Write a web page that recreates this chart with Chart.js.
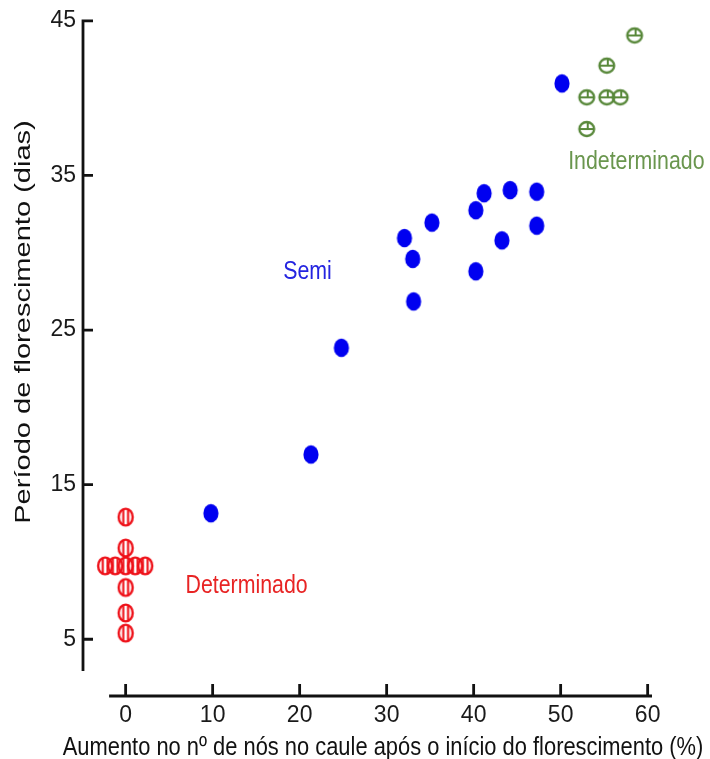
<!DOCTYPE html>
<html>
<head>
<meta charset="utf-8">
<script src="https://cdn.jsdelivr.net/npm/chart.js@4"></script>
<style>
  html, body { margin: 0; padding: 0; background: #fff; }
  #wrap { width: 710px; height: 759px; }
</style>
</head>
<body>
<div id="wrap"><canvas id="chart"></canvas></div>
<script>
// values
const determinadoX = [0, 0, -2.35, -1.2, 0, 1.1, 2.25, 0, 0, 0];
const determinadoY = [12.9, 10.9, 9.75, 9.75, 9.75, 9.75, 9.75, 8.35, 6.7, 5.4];

const semiX = [9.8, 21.3, 24.8, 33.1, 33.0, 32.05, 35.2, 40.25, 41.2, 44.2, 47.25, 47.25, 43.25, 40.25, 50.15];
const semiY = [13.15, 16.95, 23.85, 26.85, 29.6, 30.95, 31.95, 32.75, 33.85, 34.05, 33.95, 31.75, 30.8, 28.8, 40.95];

const indetX = [58.5, 55.3, 53.0, 55.3, 56.85, 53.0];
const indetY = [44.05, 42.1, 40.05, 40.05, 40.05, 38.0];

const xTicks = [0, 10, 20, 30, 40, 50, 60];
const yTicks = [5, 15, 25, 35, 45];

const xTitle = 'Aumento no nº de nós no caule após o início do florescimento (%)';
const yTitle = 'Período de florescimento (dias)';

const RED = '#ee1018';
const BLUE = '#0000f0';
const GREEN = '#58883a';
const SANS = '"Liberation Sans", Arial, sans-serif';
const NARROW = '"Liberation Sans Narrow", "Arial Narrow", "Liberation Sans", Arial, sans-serif';

function toPoints(xs, ys) {
  return xs.map((x, i) => ({ x: x, y: ys[i] }));
}

// marker images
function makeMarker(w, h, draw) {
  const c = document.createElement('canvas');
  c.width = w; c.height = h;
  draw(c.getContext('2d'), w / 2, h / 2);
  return c;
}

const blueDot = makeMarker(18, 22, (g, cx, cy) => {
  g.fillStyle = BLUE;
  g.beginPath();
  g.ellipse(cx, cy, 7.6, 9.2, 0, 0, Math.PI * 2);
  g.fill();
});

const redRing = makeMarker(20, 22, (g, cx, cy) => {
  g.strokeStyle = RED;
  g.lineWidth = 2.4;
  g.beginPath();
  g.ellipse(cx, cy, 7.0, 8.4, 0, 0, Math.PI * 2);
  g.stroke();
  g.lineWidth = 2.1;
  g.beginPath();
  g.moveTo(cx - 2.4, cy - 7.6); g.lineTo(cx - 2.4, cy + 7.6);
  g.moveTo(cx + 2.4, cy - 7.6); g.lineTo(cx + 2.4, cy + 7.6);
  g.stroke();
});

const greenRing = makeMarker(20, 20, (g, cx, cy) => {
  g.strokeStyle = GREEN;
  g.lineWidth = 2.3;
  g.beginPath();
  g.ellipse(cx, cy, 7.4, 7.0, 0, 0, Math.PI * 2);
  g.stroke();
  g.lineWidth = 2;
  g.beginPath();
  g.moveTo(cx - 7.4, cy); g.lineTo(cx + 7.4, cy);
  g.moveTo(cx + 1, cy - 7); g.lineTo(cx + 1, cy - 1);
  g.stroke();
});

function stretchText(ctx, text, x, y, size, color, sx, rot) {
  ctx.save();
  ctx.translate(x, y);
  if (rot) ctx.rotate(rot);
  ctx.scale(sx, 1);
  ctx.font = size + 'px ' + SANS;
  ctx.fillStyle = color;
  ctx.textAlign = 'center';
  ctx.textBaseline = 'alphabetic';
  ctx.fillText(text, 0, 0);
  ctx.restore();
}

// offset axes with inward ticks, titles and group labels
const axesPlugin = {
  id: 'axesPlugin',
  afterDraw(chart) {
    const { ctx, scales: { x, y } } = chart;
    const ax = x.left;
    const ay = y.bottom;
    ctx.save();
    ctx.strokeStyle = '#111';
    ctx.lineWidth = 2.8;

    ctx.beginPath();
    ctx.moveTo(ax, y.getPixelForValue(45) - 1.4);
    ctx.lineTo(ax, y.getPixelForValue(2.95));
    yTicks.forEach(v => {
      const py = y.getPixelForValue(v);
      ctx.moveTo(ax, py);
      ctx.lineTo(ax + 10, py);
    });
    ctx.stroke();

    ctx.beginPath();
    ctx.moveTo(x.getPixelForValue(-1.9), ay);
    ctx.lineTo(x.right, ay);
    xTicks.forEach(v => {
      const px = x.getPixelForValue(v);
      ctx.moveTo(px, ay);
      ctx.lineTo(px, ay - 12);
    });
    ctx.stroke();
    ctx.restore();

    stretchText(ctx, xTitle, 383, 755, 26.7, '#111', 0.82);
    stretchText(ctx, yTitle, 30, 322, 22, '#111', 1.32, -Math.PI / 2);

    stretchText(ctx, 'Determinado', x.getPixelForValue(13.9), y.getPixelForValue(8.0), 26, '#e82424', 0.82);
    stretchText(ctx, 'Semi', x.getPixelForValue(20.9), y.getPixelForValue(28.3), 26, '#2424e0', 0.82);
    stretchText(ctx, 'Indeterminado', x.getPixelForValue(58.7), y.getPixelForValue(35.4), 26, '#6a964e', 0.82);
  }
};

const tickFont = { family: NARROW, size: 23 };

new Chart(document.getElementById('chart'), {
  type: 'scatter',
  data: {
    datasets: [
      { label: 'Determinado', data: toPoints(determinadoX, determinadoY), pointStyle: redRing },
      { label: 'Semi', data: toPoints(semiX, semiY), pointStyle: blueDot },
      { label: 'Indeterminado', data: toPoints(indetX, indetY), pointStyle: greenRing }
    ]
  },
  options: {
    responsive: true,
    maintainAspectRatio: false,
    animation: false,
    layout: { padding: { top: 20, right: 58, left: 0, bottom: 0 } },
    plugins: { legend: { display: false }, tooltip: { enabled: false } },
    scales: {
      x: {
        type: 'linear',
        min: -4.9,
        max: 60.5,
        grid: { display: false, drawTicks: false },
        border: { display: false },
        afterBuildTicks: s => { s.ticks = xTicks.map(v => ({ value: v })); },
        afterFit: s => { s.height = 63; },
        ticks: { font: tickFont, color: '#1a1a1a', padding: 6, maxRotation: 0, autoSkip: false }
      },
      y: {
        type: 'linear',
        min: 1.33,
        max: 45,
        grid: { display: false, drawTicks: false },
        border: { display: false },
        afterBuildTicks: s => { s.ticks = yTicks.map(v => ({ value: v })); },
        afterFit: s => { s.width = 83; },
        ticks: { font: tickFont, color: '#1a1a1a', padding: 7, autoSkip: false }
      }
    }
  },
  plugins: [axesPlugin]
});
</script>
</body>
</html>
